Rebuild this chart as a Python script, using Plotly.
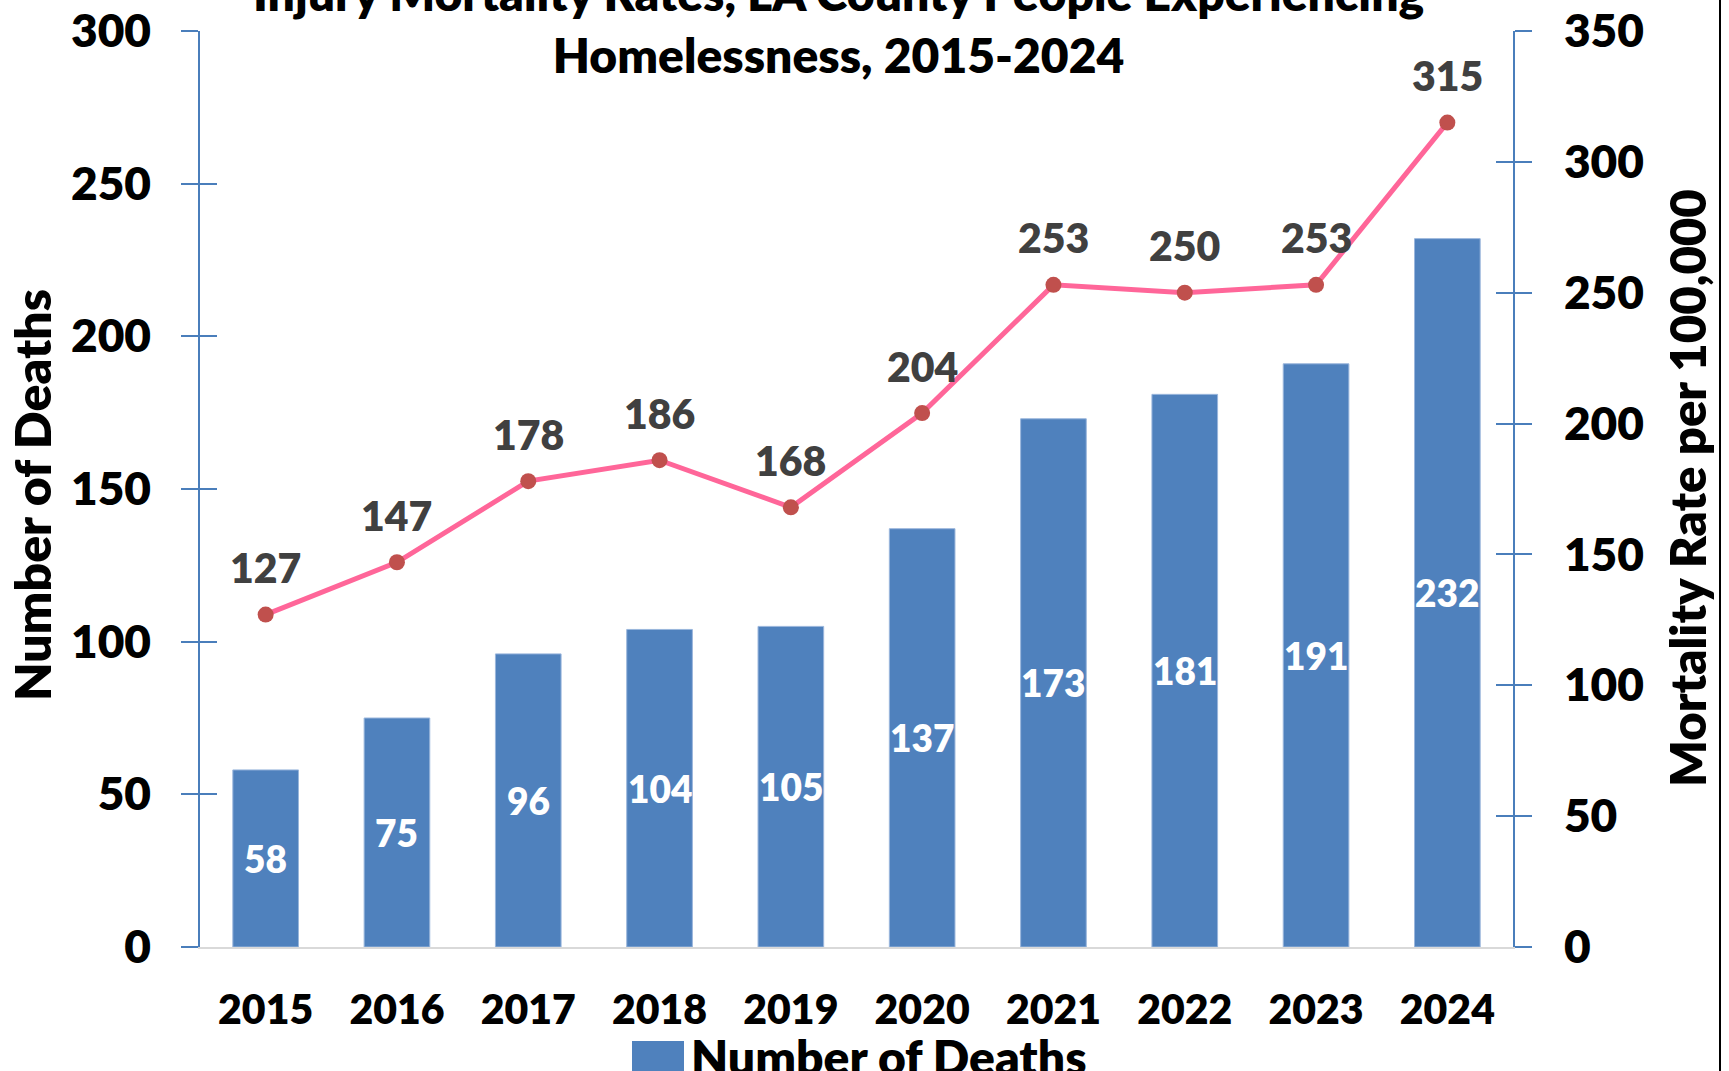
import plotly.graph_objects as go

# Data
years = ["2015", "2016", "2017", "2018", "2019", "2020", "2021", "2022", "2023", "2024"]
deaths = [58, 75, 96, 104, 105, 137, 173, 181, 191, 232]
rates = [127, 147, 178, 186, 168, 204, 253, 250, 253, 315]

left_ticks = [0, 50, 100, 150, 200, 250, 300]
right_ticks = [0, 50, 100, 150, 200, 250, 300, 350]

# Canvas and plot-area geometry (pixels)
W, H = 1729, 1071
ML, MR, MT, MB = 200, 216, 31, 124
PW = W - ML - MR
PH = H - MT - MB


def px_x(x):
    return (x - ML) / PW


def px_y(y):
    return (H - MB - y) / PH


FONT = "Lato"
WEIGHT = 800
BAR_BLUE = "#4f81bd"
AXIS_BLUE = "#4a7ebb"
LINE_PINK = "#ff6699"
MARKER_RED = "#c0504d"
LABEL_GREY = "#404040"

fig = go.Figure()

fig.add_trace(go.Bar(
    x=years, y=deaths, name="Number of Deaths",
    marker=dict(color=BAR_BLUE, line=dict(color="#9ab6dc", width=1)),
    width=0.5, yaxis="y", showlegend=False, hoverinfo="x+y",
))

fig.add_trace(go.Scatter(
    x=years, y=rates, name="Mortality Rate per 100,000",
    mode="lines+markers", yaxis="y2",
    line=dict(color=LINE_PINK, width=5),
    marker=dict(color=MARKER_RED, size=16),
    showlegend=False,
))

# Invisible companions that carry the inner half of the cross ticks
fig.add_trace(go.Scatter(x=years, y=deaths, yaxis="y3", mode="markers",
                         marker=dict(opacity=0), showlegend=False, hoverinfo="skip"))
fig.add_trace(go.Scatter(x=years, y=rates, yaxis="y4", mode="markers",
                         marker=dict(opacity=0), showlegend=False, hoverinfo="skip"))

annotations = []

# Value labels inside the bars (x given as category index)
for i, d in enumerate(deaths):
    annotations.append(dict(
        x=i, y=d / 2, xref="x", yref="y", text=str(d), showarrow=False,
        xanchor="center", yanchor="middle",
        font=dict(family=FONT, size=37, color="white", weight=WEIGHT),
    ))

# Value labels above the rate markers
for i, r in enumerate(rates):
    annotations.append(dict(
        x=i, y=r, xref="x", yref="y2", text=str(r), showarrow=False, yshift=47,
        xanchor="center", yanchor="middle",
        font=dict(family=FONT, size=41, color=LABEL_GREY, weight=WEIGHT),
    ))

# Title
annotations.append(dict(
    x=px_x(838), y=px_y(85), xref="paper", yref="paper", xanchor="center", yanchor="bottom",
    text="Injury Mortality Rates, LA County People Experiencing<br>Homelessness, 2015-2024",
    showarrow=False, font=dict(family=FONT, size=48, color="black", weight=WEIGHT),
))

# Axis titles
annotations.append(dict(
    x=px_x(32), y=px_y(495), xref="paper", yref="paper", textangle=-90,
    xanchor="center", yanchor="middle",
    text="Number of Deaths", showarrow=False,
    font=dict(family=FONT, size=50, color="black", weight=WEIGHT),
))
annotations.append(dict(
    x=px_x(1687), y=px_y(488), xref="paper", yref="paper", textangle=-90,
    xanchor="center", yanchor="middle",
    text="Mortality Rate per 100,000", showarrow=False,
    font=dict(family=FONT, size=49, color="black", weight=WEIGHT),
))

# Legend entry
annotations.append(dict(
    x=px_x(689), y=px_y(1026), xref="paper", yref="paper", xanchor="left", yanchor="top",
    text="Number of Deaths", showarrow=False,
    font=dict(family=FONT, size=48, color="black", weight=WEIGHT),
))

shapes = [
    dict(type="rect", xref="paper", yref="paper",
         x0=px_x(632), x1=px_x(684), y0=px_y(1093), y1=px_y(1041),
         fillcolor=BAR_BLUE, line=dict(width=0)),
    dict(type="line", xref="paper", yref="paper",
         x0=px_x(1720), x1=px_x(1720), y0=px_y(H + 5), y1=px_y(-5),
         line=dict(color="black", width=2)),
]

tick_font = dict(family=FONT, size=46, color="black", weight=WEIGHT)

fig.update_layout(
    width=W, height=H,
    margin=dict(l=ML, r=MR, t=MT, b=MB, pad=0, autoexpand=False),
    paper_bgcolor="white", plot_bgcolor="white",
    bargap=0.5,
    xaxis=dict(
        type="category", range=[-0.5, 9.5], automargin=False,
        showline=True, linecolor="#d9d9d9", linewidth=2,
        ticks="", showgrid=False,
        tickfont=dict(family=FONT, size=41, color="black", weight=WEIGHT),
        ticklabelstandoff=26,
    ),
    yaxis=dict(
        range=[0, 300], tickvals=left_ticks, showgrid=False, zeroline=False,
        automargin=False,
        showline=True, linecolor=AXIS_BLUE, linewidth=1.5,
        ticks="outside", ticklen=17, tickcolor=AXIS_BLUE, tickwidth=1.5,
        tickfont=tick_font, ticklabelstandoff=21,
    ),
    yaxis2=dict(
        range=[0, 350], tickvals=right_ticks, overlaying="y", side="right",
        showgrid=False, zeroline=False, automargin=False,
        showline=True, linecolor=AXIS_BLUE, linewidth=1.5,
        ticks="outside", ticklen=17, tickcolor=AXIS_BLUE, tickwidth=1.5,
        tickfont=tick_font, ticklabelstandoff=23,
    ),
    yaxis3=dict(
        range=[0, 300], tickvals=left_ticks, overlaying="y", side="left",
        showgrid=False, zeroline=False, showline=False, showticklabels=False,
        automargin=False,
        ticks="inside", ticklen=17, tickcolor=AXIS_BLUE, tickwidth=1.5,
    ),
    yaxis4=dict(
        range=[0, 350], tickvals=right_ticks, overlaying="y", side="right",
        showgrid=False, zeroline=False, showline=False, showticklabels=False,
        automargin=False,
        ticks="inside", ticklen=17, tickcolor=AXIS_BLUE, tickwidth=1.5,
    ),
    annotations=annotations,
    shapes=shapes,
    showlegend=False,
)

fig.write_html("out.html")
